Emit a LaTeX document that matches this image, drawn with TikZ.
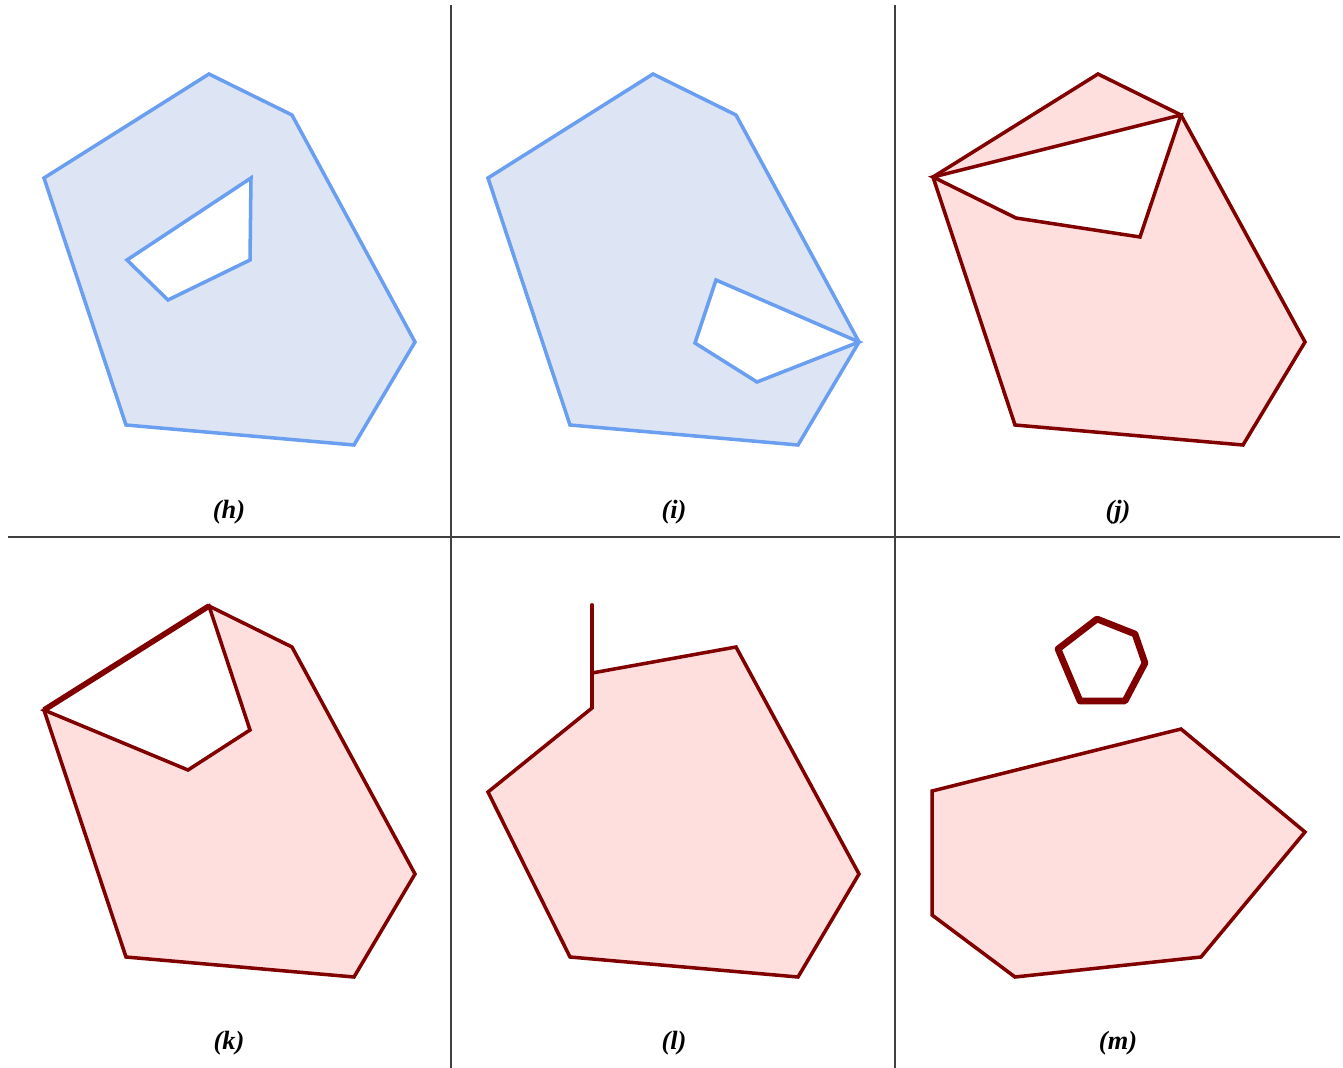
\documentclass[tikz,border=0pt]{standalone}
\usepackage{fontspec}
\setmainfont{Liberation Serif}
\definecolor{bluefill}{HTML}{DDE4F4}
\definecolor{blueline}{HTML}{6A9EF0}
\definecolor{redfill}{HTML}{FFDEDE}
\definecolor{redline}{HTML}{800000}
\begin{document}
\begin{tikzpicture}[x=0.02cm,y=-0.02cm,
    bluepoly/.style={draw=blueline,fill=bluefill,line width=2pt},
    redpoly/.style={draw=redline,fill=redfill,line width=2pt},
    grid/.style={draw=black!75,line width=0.6pt},
    caption/.style={font=\fontsize{15}{18}\selectfont\bfseries\itshape}]
\useasboundingbox (0,0) rectangle (1343,1068);
% grid
\draw[grid] (451,5)--(451,1068);
\draw[grid] (895,5)--(895,1068);
\draw[grid] (8,537)--(1340,537);
% (h)
\draw[bluepoly] (44,178)--(209,74)--(292,115)--(415,342)--(354,445)--(126,425)--cycle;
\draw[bluepoly,fill=white] (251,178)--(250,260)--(168,300)--(127,260)--cycle;
% (i)
\draw[bluepoly] (488,178)--(653,74)--(736,115)--(859,342)--(798,445)--(570,425)--cycle;
\draw[bluepoly,fill=white] (716,280)--(859,342)--(757,382)--(695,343)--cycle;
% (j)
\draw[redpoly] (933,177)--(1098,74)--(1181,115)--(1305,342)--(1243,445)--(1015,425)--cycle;
\draw[redpoly,fill=white] (933,177)--(1181,115)--(1140,237)--(1016,218)--cycle;
% (k)
\draw[redpoly] (44,710)--(209,606)--(292,647)--(415,874)--(354,977)--(126,957)--cycle;
\draw[redpoly,fill=white] (44,710)--(209,606)--(250,730)--(188,770)--cycle;
\draw[redline,line width=3.2pt] (44,710)--(209,606);
% (l)
\draw[redpoly] (592,673)--(736,647)--(859,874)--(798,977)--(570,957)--(488,792)--(592,708)--cycle;
\draw[redline,line width=2.2pt,line cap=round] (592,673)--(592,605);
% (m)
\draw[redpoly] (932,791)--(1181,729)--(1305,832)--(1201,957)--(1015,977)--(932,915)--cycle;
\draw[redline,line width=3.8pt,line join=round] (1097,619)--(1135,634)--(1145,663)--(1125,701)--(1080,701)--(1058,649)--cycle;
% labels
\node[caption] (caph) at (229,512) {(h)};
\node[caption] (capi) at (674,512) {(i)};
\node[caption] (capj) at (1118,512) {(j)};
\node[caption] (capk) at (229,1043) {(k)};
\node[caption] (capl) at (674,1043) {(l)};
\node[caption] (capm) at (1118,1043) {(m)};
\end{tikzpicture}
\end{document}
